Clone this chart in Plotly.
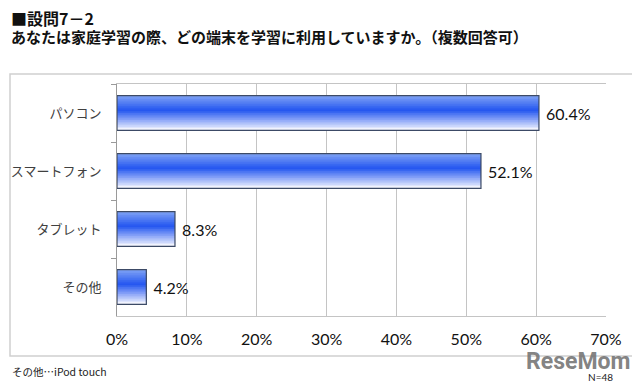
import plotly.graph_objects as go

categories = ["パソコン", "スマートフォン", "タブレット", "その他"]
values = [60.4, 52.1, 8.3, 4.2]
x_ticks = [0, 10, 20, 30, 40, 50, 60, 70]
x_tick_labels = ["0%", "10%", "20%", "30%", "40%", "50%", "60%", "70%"]
title_line1 = "■設問7－2"
title_line2 = "あなたは家庭学習の際、どの端末を学習に利用していますか。（複数回答可）"
footnote = "その他…iPod touch"
n_note = "N=48"

BAR_W = 0.6
N_STRIPS = 20
stops = [(0.0, (130, 165, 245)), (0.42, (36, 86, 240)), (1.0, (250, 250, 255))]


def grad(t):
    for (t0, c0), (t1, c1) in zip(stops[:-1], stops[1:]):
        if t0 <= t <= t1:
            f = (t - t0) / (t1 - t0)
            return "rgb(%d,%d,%d)" % tuple(round(a + (b - a) * f) for a, b in zip(c0, c1))
    return "rgb(%d,%d,%d)" % stops[-1][1]


fig = go.Figure()
sw = BAR_W / N_STRIPS
for i in range(N_STRIPS):
    t = (i + 0.5) / N_STRIPS
    start = -BAR_W / 2 + i * sw
    w = BAR_W / 2 - start  # extend to the bar's far edge; later strips cover it
    fig.add_trace(go.Bar(
        x=values, y=categories, orientation="h",
        width=w, offset=start,
        marker=dict(color=grad(t), line=dict(width=0)),
        hoverinfo="skip", showlegend=False,
    ))

fig.add_trace(go.Bar(
    x=values, y=categories, orientation="h",
    width=BAR_W, offset=-BAR_W / 2,
    marker=dict(color="rgba(0,0,0,0)", line=dict(color="#3c4a66", width=1.2)),
    text=[f" {v:.1f}%" for v in values], textposition="outside", cliponaxis=False,
    textfont=dict(family="Lato, Open Sans, sans-serif", size=16, color="#111111"),
    showlegend=False,
))

# page body adds an 8px offset; figure is sized so the page matches 640x387
OFF = 8
fig.update_layout(
    width=640 - OFF, height=387 - OFF,
    margin=dict(l=117 - OFF, r=34, t=84 - OFF, b=71),
    paper_bgcolor="white", plot_bgcolor="white",
    barmode="overlay",
    font=dict(family="Noto Sans CJK JP, sans-serif"),
    xaxis=dict(
        range=[0, 70], tickvals=x_ticks, ticktext=x_tick_labels, automargin=False,
        showgrid=True, gridcolor="#c4c4c4", gridwidth=1,
        showline=True, linecolor="#c4c4c4", mirror=True,
        zeroline=False, ticks="outside", ticklen=9, tickcolor="rgba(0,0,0,0)",
        tickfont=dict(family="Lato, Open Sans, sans-serif", size=16, color="#111111"),
    ),
    yaxis=dict(
        categoryorder="array", categoryarray=categories, autorange="reversed",
        automargin=False,
        showline=True, linecolor="#9a9a9a", linewidth=1,
        ticks="outside", ticklen=5, tickcolor="#9a9a9a", tickson="boundaries",
        showgrid=False, ticklabelstandoff=12,
        tickfont=dict(family="Noto Sans CJK JP, sans-serif", size=13, color="#404040"),
    ),
    shapes=[dict(type="rect", xref="paper", yref="paper",
                 x0=(10 - 117) / 489, x1=(633 - 117) / 489,
                 y0=(316 - 356) / 232, y1=(316 - 74) / 232,
                 line=dict(color="#d0d0d0", width=1.5), fillcolor="rgba(0,0,0,0)", layer="below")],
    annotations=[
        dict(text="<b>" + title_line1 + "</b>", xref="paper", yref="paper", x=-107 / 489, y=(316 - 18) / 232,
             xanchor="left", yanchor="middle", showarrow=False, borderpad=0,
             font=dict(size=16, color="#111111", family="Noto Sans CJK JP")),
        dict(text="<b>" + title_line2 + "</b>", xref="paper", yref="paper", x=-107 / 489, y=(316 - 37) / 232,
             xanchor="left", yanchor="middle", showarrow=False, borderpad=0,
             font=dict(size=15, color="#111111", family="Noto Sans CJK JP")),
        dict(text=footnote, xref="paper", yref="paper", x=-107 / 489, y=(316 - 371) / 232,
             xanchor="left", yanchor="middle", showarrow=False,
             font=dict(size=10.5, color="#222222", family="Noto Sans CJK JP")),
        dict(text="<b>ReseMom</b>", xref="paper", yref="paper", x=(578 - 117) / 489, y=(316 - 361) / 232,
             xanchor="center", yanchor="middle", showarrow=False,
             font=dict(size=23, color="rgba(115,115,115,0.9)", family="Liberation Sans Narrow, Roboto, sans-serif")),
        dict(text=n_note, xref="paper", yref="paper", x=(600 - 117) / 489, y=(316 - 377) / 232,
             xanchor="center", yanchor="middle", showarrow=False,
             font=dict(size=10, color="#222222", family="Lato")),
    ],
)

fig.write_html("out.html")
